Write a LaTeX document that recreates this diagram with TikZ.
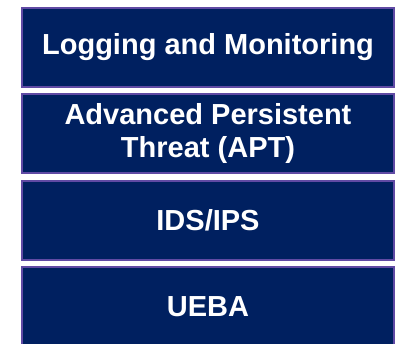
\documentclass[tikz,border=0pt]{standalone}
\usepackage{fontspec}
\setmainfont{Liberation Sans}
\begin{document}
\begin{tikzpicture}[x=1bp,y=-1bp,
  tier/.style={draw=tierEdge, fill=tierFill, line width=2bp,
    minimum width=372bp, minimum height=79bp, inner sep=0pt,
    text=white, align=center,
    font=\fontsize{29bp}{33bp}\selectfont\bfseries}]
  \definecolor{tierFill}{RGB}{0,32,96}
  \definecolor{tierEdge}{RGB}{96,74,164}
  \useasboundingbox (0,0) rectangle (396,344);
  \node[tier] (logging) at (208,47.5) {Logging and Monitoring};
  \node[tier] (apt) at (208,133.5) {Advanced Persistent\\Threat (APT)};
  \node[tier] (ids) at (208,220.5) {IDS/IPS};
  \node[tier] (ueba) at (208,306.5) {UEBA};
\end{tikzpicture}
\end{document}
